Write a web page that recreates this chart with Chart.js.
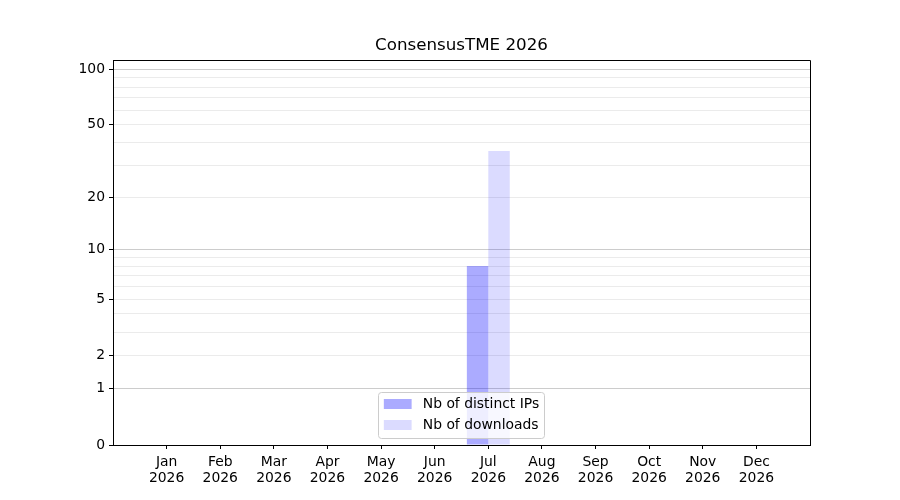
<!DOCTYPE html>
<html>
<head>
<meta charset="utf-8">
<script src="https://cdn.jsdelivr.net/npm/chart.js@4"></script>
<style>
html, body { margin: 0; padding: 0; background: #fff; }
</style>
</head>
<body>
<canvas id="chart" width="900" height="500"></canvas>
<script>
const chartTitle = 'ConsensusTME 2026';
const months = ['Jan', 'Feb', 'Mar', 'Apr', 'May', 'Jun', 'Jul', 'Aug', 'Sep', 'Oct', 'Nov', 'Dec'];
const year = '2026';
const distinctIPs = [0, 0, 0, 0, 0, 0, 8, 0, 0, 0, 0, 0];
const downloads = [0, 0, 0, 0, 0, 0, 36, 0, 0, 0, 0, 0];
const yTickLabels = [0, 1, 2, 5, 10, 20, 50, 100];
const yGridMajor = [1, 10, 100];
const yGridMinor = [2, 3, 4, 5, 6, 7, 8, 9, 20, 30, 40, 50, 60, 70, 80, 90];
const yMax = 112;

// y axis is log10(1 + v)
const fwd = v => Math.log10(1 + v);
const inv = t => Math.round(Math.pow(10, t) - 1);

const FONT = 'DejaVu Sans';

// empty slot on each side so the months sit one step in from the frame
const labels = [''].concat(months.map(m => [m, year]), ['']);
const pad = arr => [null].concat(arr.map(fwd), [null]);

const datasetLabels = ['Nb of distinct IPs', 'Nb of downloads'];
const barColors = ['rgba(0, 0, 255, 0.33)', 'rgba(0, 0, 255, 0.14)'];

const framePlugin = {
    id: 'frame',
    afterDatasetsDraw(chart) {
        const { ctx, chartArea: a } = chart;
        ctx.save();
        ctx.strokeStyle = '#000';
        ctx.lineWidth = 1;
        ctx.beginPath();
        ctx.moveTo(Math.round(a.left) + 0.5, Math.round(a.top) + 0.5);
        ctx.lineTo(Math.round(a.right) + 0.5, Math.round(a.top) + 0.5);
        ctx.lineTo(Math.round(a.right) + 0.5, Math.round(a.bottom) + 0.5);
        ctx.stroke();
        ctx.restore();
    }
};

const titleLegendPlugin = {
    id: 'titleLegend',
    afterDraw(chart) {
        const { ctx, chartArea: a } = chart;
        ctx.save();
        // title
        ctx.fillStyle = '#000';
        ctx.font = '16.7px "' + FONT + '"';
        ctx.textAlign = 'center';
        ctx.textBaseline = 'middle';
        ctx.fillText(chartTitle, (a.left + a.right) / 2, 46);

        // legend, lower center inside the axes
        const fs = 13.9;
        ctx.font = fs + 'px "' + FONT + '"';
        const textW = Math.max(...datasetLabels.map(t => ctx.measureText(t).width));
        const bp = 0.4 * fs, hl = 2 * fs, htp = 0.8 * fs, rowH = 21;
        const w = bp + hl + htp + textW + bp;
        const h = 46;
        const x = (a.left + a.right) / 2 - w / 2;
        const y = a.bottom - 7 - h;
        ctx.beginPath();
        ctx.roundRect(Math.round(x) + 0.5, Math.round(y) + 0.5, Math.round(w), h, 3);
        ctx.fillStyle = 'rgba(255, 255, 255, 0.8)';
        ctx.fill();
        ctx.strokeStyle = '#cccccc';
        ctx.lineWidth = 1;
        ctx.stroke();
        ctx.textAlign = 'left';
        datasetLabels.forEach((t, i) => {
            const cy = y + 12 + i * rowH;
            ctx.fillStyle = barColors[i];
            ctx.fillRect(x + bp, cy - 5, hl, 10);
            ctx.fillStyle = '#000';
            ctx.fillText(t, x + bp + hl + htp, cy);
        });
        ctx.restore();
    }
};

const ctx = document.getElementById('chart').getContext('2d');
const chart = new Chart(ctx, {
    type: 'bar',
    data: {
        labels: labels,
        datasets: [{
            label: datasetLabels[0],
            data: pad(distinctIPs),
            backgroundColor: barColors[0],
            borderWidth: 0
        }, {
            label: datasetLabels[1],
            data: pad(downloads),
            backgroundColor: barColors[1],
            borderWidth: 0
        }]
    },
    options: {
        responsive: false,
        animation: false,
        devicePixelRatio: 1,
        categoryPercentage: 0.8,
        barPercentage: 1.0,
        layout: { padding: { top: 60, right: 90, left: 0, bottom: 0 } },
        plugins: {
            legend: { display: false },
            title: { display: false },
            tooltip: { enabled: false }
        },
        scales: {
            x: {
                type: 'category',
                offset: false,
                afterFit: scale => { scale.height = 55; },
                grid: {
                    display: true,
                    offset: false,
                    drawOnChartArea: false,
                    tickLength: 4,
                    tickColor: c => (c.index === 0 || c.index === labels.length - 1) ? 'rgba(0,0,0,0)' : '#000'
                },
                border: { color: '#000', width: 1 },
                ticks: {
                    autoSkip: false,
                    maxRotation: 0,
                    color: '#000',
                    padding: 5,
                    font: { family: FONT, size: 13.9, lineHeight: 1.15 }
                }
            },
            y: {
                min: 0,
                max: fwd(yMax),
                afterFit: scale => { scale.width = 113; },
                afterBuildTicks: scale => {
                    const vals = [0].concat(yGridMajor, yGridMinor).sort((p, q) => p - q);
                    scale.ticks = vals.map(v => ({ value: fwd(v) }));
                },
                grid: {
                    lineWidth: 1,
                    tickLength: 4,
                    color: c => {
                        const v = inv(c.tick.value);
                        if (v === 0) return 'rgba(0,0,0,0)';
                        return yGridMajor.includes(v) ? '#cccccc' : '#ebebeb';
                    },
                    tickColor: c => yTickLabels.includes(inv(c.tick.value)) ? '#000' : 'rgba(0,0,0,0)'
                },
                border: { color: '#000', width: 1 },
                ticks: {
                    autoSkip: false,
                    color: '#000',
                    padding: 4,
                    font: { family: FONT, size: 13.9 },
                    callback: value => {
                        const v = inv(value);
                        return yTickLabels.includes(v) ? String(v) : '';
                    }
                }
            }
        }
    },
    plugins: [framePlugin, titleLegendPlugin]
});
</script>
</body>
</html>
